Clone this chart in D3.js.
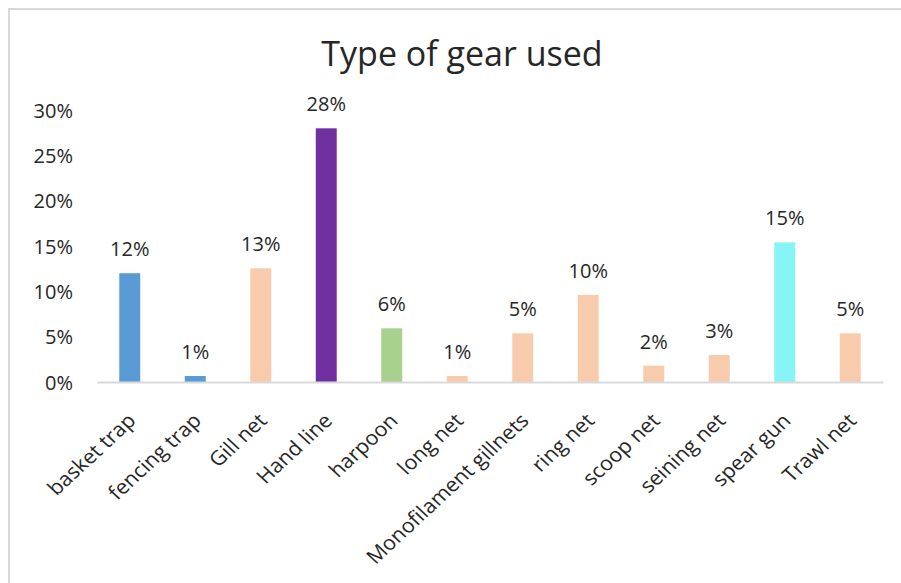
<!DOCTYPE html>
<meta charset="utf-8">
<style>
body { margin: 0; background: #fff; overflow: hidden; }
svg { display: block; overflow: hidden; }
text { font-family: "Open Sans", "Noto Sans", sans-serif; fill: #262626; }
.title { font-size: 34px; }
.axis text { font-size: 20px; }
.lbl { font-size: 20px; }
</style>
<svg id="svg" width="901" height="583"></svg>
<script src="https://cdn.jsdelivr.net/npm/d3@7"></script>
<script>
var categories = ["basket trap", "fencing trap", "Gill net", "Hand line", "harpoon", "long net",
  "Monofilament gillnets", "ring net", "scoop net", "seining net", "spear gun", "Trawl net"];
var values = [0.120, 0.0066, 0.1254, 0.2798, 0.0592, 0.0066, 0.0537, 0.096, 0.018, 0.0298, 0.154, 0.0537];
var colors = ["#5B9BD5", "#5B9BD5", "#F8CBAD", "#7030A0", "#A9D18E", "#F8CBAD",
  "#F8CBAD", "#F8CBAD", "#F8CBAD", "#F8CBAD", "#87F5F5", "#F8CBAD"];
var yTicks = [0, 0.05, 0.10, 0.15, 0.20, 0.25, 0.30];

var svg = d3.select("svg"),
    margin = {top: 110, right: 18, bottom: 201, left: 97},
    width = +svg.attr("width") - margin.left - margin.right,
    height = +svg.attr("height") - margin.top - margin.bottom;

// chart border (only top/left edges fall inside the picture)
svg.append("rect")
    .attr("x", 9).attr("y", 9)
    .attr("width", 2000).attr("height", 2000)
    .attr("fill", "none").attr("stroke", "#d9d9d9").attr("stroke-width", 2);

svg.append("text")
    .attr("class", "title")
    .attr("x", 462).attr("y", 66)
    .attr("text-anchor", "middle")
    .text("Type of gear used");

var x = d3.scaleBand().domain(categories).range([0, width]).paddingInner(0.68).paddingOuter(0.34),
    y = d3.scaleLinear().domain([0, 0.30]).range([height, 0]);

var g = svg.append("g")
    .attr("transform", "translate(" + margin.left + "," + margin.top + ")");

// y axis: labels only
var yAxis = g.append("g")
    .attr("class", "axis axis--y")
    .call(d3.axisLeft(y).tickValues(yTicks).tickFormat(d3.format(".0%")).tickSize(0).tickPadding(24));
yAxis.select(".domain").remove();
yAxis.selectAll("text").attr("dy", "0.35em");

g.selectAll(".bar")
    .data(values)
    .enter().append("rect")
    .attr("class", "bar")
    .attr("x", function(d, i) { return x(categories[i]); })
    .attr("y", function(d) { return y(d); })
    .attr("width", x.bandwidth())
    .attr("height", function(d) { return height - y(d); })
    .attr("fill", function(d, i) { return colors[i]; });

g.selectAll(".lbl")
    .data(values)
    .enter().append("text")
    .attr("class", "lbl")
    .attr("x", function(d, i) { return x(categories[i]) + x.bandwidth() / 2; })
    .attr("y", function(d) { return y(d) - 17; })
    .attr("text-anchor", "middle")
    .text(d3.format(".0%"));

// x axis
var xAxis = g.append("g")
    .attr("class", "axis axis--x")
    .attr("transform", "translate(0," + height + ")")
    .call(d3.axisBottom(x).tickSize(0).tickSizeOuter(0));
xAxis.select(".domain").attr("stroke", "#d9d9d9").attr("stroke-width", 2);
xAxis.selectAll("text")
    .attr("text-anchor", "end")
    .attr("dy", "0.35em")
    .attr("transform", "translate(2,35) scale(1.08,1) rotate(-45)")
    .attr("x", 0).attr("y", 0);
</script>
